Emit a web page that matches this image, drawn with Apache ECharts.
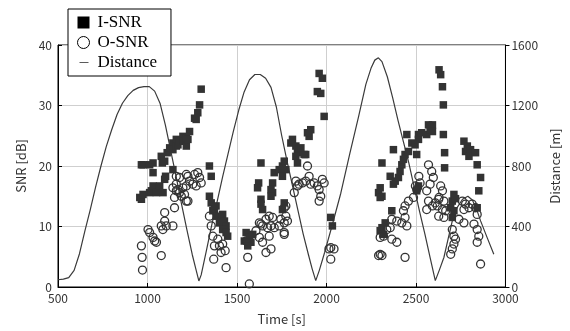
<!DOCTYPE html>
<html>
<head>
<meta charset="utf-8">
<script src="https://cdn.jsdelivr.net/npm/echarts@6/dist/echarts.min.js"></script>
<style>
html,body{margin:0;padding:0;background:#fff;}
#chart{width:570px;height:331px;}
</style>
</head>
<body>
<div id="chart"></div>
<script>
// Time [s] ticks
const xTicks = [500, 1000, 1500, 2000, 2500, 3000];
const snrTicks = [0, 10, 20, 30, 40];
const distTicks = [0, 400, 800, 1200, 1600];

// I-SNR [time s, dB]
const iSnr = [
  [957,14.8],[966,14.5],[966,20.2],[975,15.3],[975,20.2],[1012,15.6],[1012,20.2],[1022,15.9],
  [1031,16.7],[1031,18.9],[1031,20.5],[1050,15.6],[1068,16.7],[1077,21.6],[1083,20.5],[1087,15.6],
  [1096,17.8],[1096,20.8],[1101,18.3],[1110,22.2],[1124,23.0],[1142,23.8],[1142,22.7],[1142,19.4],
  [1161,24.4],[1161,23.3],[1170,23.5],[1179,24.1],[1198,24.9],[1198,24.1],[1217,23.3],[1217,24.6],
  [1226,24.4],[1235,25.7],[1263,27.9],[1272,27.7],[1281,28.8],[1291,30.1],[1300,32.7],
  [1346,20.0],[1356,18.3],[1346,15.0],[1356,13.9],[1365,12.6],[1374,12.8],[1383,11.7],[1383,13.4],
  [1402,10.6],[1411,11.2],[1420,12.0],[1430,10.9],[1439,10.1],[1420,9.5],[1439,9.0],[1448,8.4],
  [1634,20.5],[1621,17.2],[1615,16.4],[1634,14.5],[1634,13.7],[1643,12.8],
  [1699,17.2],[1690,16.1],[1699,15.6],[1690,15.0],[1708,18.9],[1736,19.4],[1754,20.0],[1764,20.8],
  [1773,19.4],[1754,18.3],[1764,13.9],[1754,12.8],
  [1551,9.0],[1541,7.6],[1569,8.2],[1588,8.7],[1578,7.4],[1560,6.8],
  [1801,23.8],[1810,24.4],[1829,23.3],[1838,22.2],[1847,22.7],[1829,21.6],[1838,20.5],[1884,21.9],
  [1903,24.9],[1912,26.0],[1894,25.5],[1875,21.9],[1857,23.0],
  [1959,35.3],[1977,34.5],[1949,32.3],[1968,32.0],[1987,28.2],
  [2024,11.5],[2033,10.1],
  [2291,15.6],[2300,16.4],[2310,15.0],[2300,14.8],[2310,20.5],[2328,10.6],[2310,9.8],[2300,9.3],
  [2319,8.7],[2356,18.3],[2365,12.6],[2374,22.7],[2374,17.0],[2384,17.5],[2402,18.1],[2411,19.1],
  [2421,20.2],[2430,21.1],[2439,21.9],[2449,25.2],[2458,22.4],[2477,23.8],[2495,23.5],[2504,21.9],
  [2514,24.4],[2514,25.2],[2532,25.5],[2560,25.2],[2570,26.8],[2579,26.0],[2592,26.8],[2592,25.7],
  [2504,15.9],[2514,16.7],
  [2629,35.9],[2638,35.1],[2648,33.1],[2653,30.1],[2653,25.2],[2660,22.2],[2660,19.7],
  [2694,13.1],[2703,14.2],[2712,15.3],[2703,11.5],[2712,12.6],[2721,14.6],
  [2768,24.1],[2777,22.4],[2787,23.3],[2796,21.6],[2805,22.7],[2833,22.2],[2842,20.2],[2861,18.1],
  [2851,15.9],[2842,13.1]
];

// O-SNR [time s, dB]
const oSnr = [
  [966,6.8],[970,4.9],[972,2.8],[1077,5.2],[1003,9.5],[1012,9.0],[1031,8.2],[1040,7.6],[1050,7.4],
  [1077,10.1],[1086,9.5],[1105,10.1],[1096,10.9],[1142,10.1],[1096,12.3],[1151,13.1],[1151,14.8],
  [1161,15.9],[1161,17.0],[1179,18.1],[1198,16.4],[1217,18.6],[1235,17.5],[1253,17.0],[1281,18.9],
  [1291,18.1],[1300,17.2],[1207,15.3],[1226,14.2],[1179,15.6],[1142,16.4],[1263,18.6],[1272,16.7],
  [1226,18.3],[1217,16.7],[1161,18.3],[1170,16.1],[1189,15.0],[1217,14.2],
  [1346,11.7],[1356,10.1],[1365,8.4],[1374,6.8],[1370,4.6],[1393,7.9],[1402,6.8],[1420,7.1],
  [1434,6.0],[1411,5.7],[1439,3.2],
  [1551,7.6],[1560,4.9],[1569,0.5],[1606,9.3],[1634,10.4],[1625,8.2],[1643,7.4],[1662,5.7],
  [1690,6.3],[1680,8.4],[1708,9.8],[1699,11.5],[1680,11.7],[1662,11.2],[1643,10.1],[1625,10.6],
  [1736,10.1],[1764,8.7],[1745,11.2],[1782,10.9],[1773,13.4],[1671,9.8],[1690,10.1],
  [1894,20.0],[1903,18.3],[1829,17.5],[1838,16.7],[1820,15.6],[1847,17.0],[1866,17.2],[1884,17.5],
  [1912,17.0],[1931,17.2],[1949,16.7],[1977,17.8],[1987,17.2],[1959,16.1],[1968,15.0],[1959,14.2],
  [1764,13.1],[1773,11.7],[1764,10.6],[1764,9.0],
  [2014,6.3],[2024,6.5],[2042,6.3],[2024,4.6],
  [2570,20.2],[2588,19.1],[2597,18.1],[2579,17.0],[2560,15.9],[2570,14.2],[2560,12.8],[2523,17.2],
  [2504,16.1],[2486,14.8],[2458,14.2],[2439,13.4],[2430,12.6],[2439,11.5],[2421,10.6],[2449,10.1],
  [2393,10.9],[2365,11.2],[2356,9.8],[2337,9.5],[2319,8.4],[2300,8.2],[2365,7.9],[2393,7.4],
  [2291,5.2],[2300,5.4],[2310,5.2],[2439,4.9],[2516,18.3],[2497,16.7],[2608,13.9],[2627,14.5],
  [2638,16.7],[2648,15.9],[2629,14.8],[2656,14.2],[2619,13.4],[2648,12.8],[2666,12.6],[2656,11.5],
  [2592,13.4],[2627,11.7],
  [2703,9.5],[2712,8.4],[2721,7.9],[2712,7.1],[2703,6.3],[2694,5.4],
  [2759,14.2],[2777,13.7],[2768,12.8],[2796,13.1],[2814,13.7],[2833,13.1],[2842,12.0],[2768,10.6],
  [2824,10.4],[2842,9.5],[2851,8.4],[2842,7.4],[2861,3.8],[2740,11.2]
];

// Distance [time s, m]
const distance = [
  [500,48],[530,52],[560,62],[590,110],[620,220],[650,370],[680,510],[710,660],[740,800],[770,930],
  [800,1040],[830,1140],[860,1215],[890,1265],[920,1300],[950,1318],[980,1325],[1010,1325],[1040,1295],
  [1070,1215],[1100,1070],[1130,900],[1160,730],[1190,550],[1220,380],[1250,215],[1270,120],[1287,40],
  [1300,80],[1330,245],[1360,415],[1390,570],[1420,730],[1450,880],[1480,1030],[1510,1170],[1540,1290],
  [1570,1370],[1600,1405],[1630,1405],[1660,1380],[1690,1320],[1720,1190],[1750,1000],[1780,830],
  [1810,670],[1840,510],[1870,350],[1900,210],[1920,120],[1940,42],
  [1960,110],[1990,230],[2030,400],[2080,620],[2130,880],[2180,1130],[2220,1340],[2250,1450],
  [2270,1500],[2290,1515],[2310,1490],[2340,1390],[2370,1250],[2400,1100],[2430,960],[2460,820],
  [2490,660],[2520,500],[2550,350],[2580,190],[2608,42],
  [2630,110],[2656,195],[2680,320],[2703,437],[2730,525],[2760,580],[2790,600],[2815,575],[2840,510],
  [2861,437],[2900,320],[2935,217]
];

const tickFont = {fontFamily: 'Noto Sans CJK JP', fontSize: 12, color: '#333'};
const nameFont = {fontFamily: 'Noto Sans CJK JP', fontSize: 13, color: '#333'};
const darkC = '#333';
const plain = v => String(v);

const chart = echarts.init(document.getElementById('chart'), null, {renderer: 'canvas'});
chart.setOption({
  animation: false,
  backgroundColor: '#fff',
  grid: {left: 58, right: 63, top: 45, bottom: 43, show: true, borderColor: '#000', borderWidth: 1, backgroundColor: 'transparent'},
  legend: {
    orient: 'vertical', left: 68, top: 9,
    padding: [5, 14, 5, 9], itemGap: 3, itemWidth: 12, itemHeight: 12,
    backgroundColor: '#fff', borderColor: '#000', borderWidth: 1,
    textStyle: {fontFamily: 'Liberation Serif', fontSize: 17, color: '#000', padding: [0, 0, 0, 3]},
    data: [
      {name: 'I-SNR', icon: 'rect', itemStyle: {color: '#000'}},
      {name: 'O-SNR', icon: 'circle', itemStyle: {color: '#fff', borderColor: '#000', borderWidth: 1}},
      {name: 'Distance', icon: 'path://M0,0 L0,0 M2,5.6 L11,5.6 L11,6.4 L2,6.4 Z M12,12 L12,12',
        itemStyle: {color: '#333', borderWidth: 0}}
    ]
  },
  xAxis: {
    type: 'value', min: xTicks[0], max: xTicks[xTicks.length - 1], interval: 500,
    name: 'Time [s]', nameLocation: 'middle', nameGap: 26, nameTextStyle: nameFont,
    axisLine: {show: true, lineStyle: {color: '#000', width: 1}},
    axisTick: {show: true, inside: true, length: 4, lineStyle: {color: '#000'}},
    axisLabel: Object.assign({margin: 5, formatter: plain}, tickFont),
    splitLine: {show: true, lineStyle: {color: '#cfcfcf', width: 1}}
  },
  yAxis: [
    {
      type: 'value', min: snrTicks[0], max: snrTicks[snrTicks.length - 1], interval: 10,
      name: 'SNR [dB]', nameLocation: 'middle', nameGap: 29, nameRotate: 90, nameTextStyle: nameFont,
      axisLine: {show: true, lineStyle: {color: '#000', width: 1}},
      axisTick: {show: true, inside: true, length: 4, lineStyle: {color: '#000'}},
      axisLabel: Object.assign({margin: 6, formatter: plain}, tickFont),
      splitLine: {show: true, lineStyle: {color: '#cfcfcf', width: 1}}
    },
    {
      type: 'value', min: distTicks[0], max: distTicks[distTicks.length - 1], interval: 400, position: 'right',
      name: 'Distance [m]', nameLocation: 'middle', nameGap: 42, nameRotate: 90, nameTextStyle: nameFont,
      axisLine: {show: true, lineStyle: {color: '#000', width: 1}},
      axisTick: {show: true, inside: false, length: 4, lineStyle: {color: '#000'}},
      axisLabel: Object.assign({margin: 6, formatter: plain}, tickFont),
      splitLine: {show: false}
    }
  ],
  series: [
    {
      name: 'Distance', type: 'line', yAxisIndex: 1, data: distance,
      symbol: 'none', smooth: false,
      lineStyle: {color: '#3a3a3a', width: 1.2}, itemStyle: {color: '#3a3a3a'}, z: 3
    },
    {
      name: 'I-SNR', type: 'scatter', yAxisIndex: 0, data: iSnr,
      symbol: 'rect', symbolSize: 7.5, itemStyle: {color: darkC, opacity: 1}, z: 4
    },
    {
      name: 'O-SNR', type: 'scatter', yAxisIndex: 0, data: oSnr,
      symbol: 'circle', symbolSize: 8,
      itemStyle: {color: 'rgba(255,255,255,0)', borderColor: darkC, borderWidth: 1.3, opacity: 1}, z: 5
    }
  ]
});
</script>
</body>
</html>
